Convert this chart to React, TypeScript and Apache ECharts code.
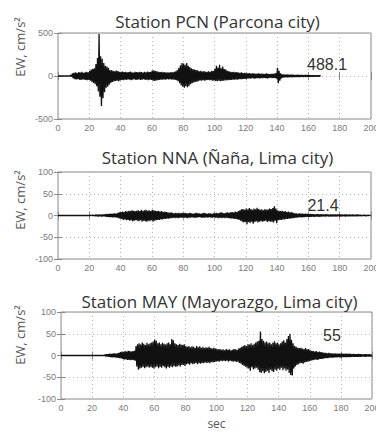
import React, { useEffect, useRef } from "react";
import * as echarts from "echarts";

// Station names drawn above each panel
const stationTitles = [
  "Station PCN (Parcona city)",
  "Station NNA (Ñaña, Lima city)",
  "Station MAY (Mayorazgo, Lima city)",
];

// Time axis (seconds)
const timeMin = 0;
const timeMax = 200;
const timeStep = 20;

// Amplitude axes per station (cm/s²)
const ampLimits = [500, 100, 100];
const ampSteps = [500, 50, 50];

// Positive and negative peak acceleration per one-second window (cm/s²)
const pcnUp = [
  0, 0, 0, 0, 0, 0, 0, 0,
  12, 30, 38, 42, 35, 45, 40, 48, 38, 44, 50, 42,
  60, 75, 85, 90, 140, 210, 488.1, 230, 200, 150,
  120, 110, 95, 70, 65, 60, 55, 62, 58, 50,
  48, 52, 45, 50, 42, 47, 52, 44, 40, 48,
  46, 42, 50, 45, 40, 48, 44, 52, 46, 50,
  62, 65, 58, 55, 50, 45, 48, 42, 46, 40,
  44, 40, 45, 42, 48, 55, 70, 95, 125, 150,
  145, 130, 150, 120, 105, 90, 80, 75, 70, 65,
  55, 60, 52, 58, 50, 48, 55, 50, 60, 58,
  85, 120, 95, 130, 90, 110, 80, 75, 60, 55,
  50, 45, 48, 42, 45, 40, 38, 42, 35, 38,
  32, 30, 35, 28, 30, 32, 26, 28, 30, 25,
  28, 24, 26, 30, 25, 22, 26, 24, 28, 35,
  95, 60, 30, 20, 18, 16, 18, 15, 14, 16,
  14, 12, 13, 15, 12, 11, 12, 10, 11, 10,
  9, 8, 9, 7, 8, 6, 7, 6,
];
const pcnDown = [
  0, 0, 0, 0, 0, 0, 0, 0,
  10, 28, 36, 40, 38, 42, 45, 40, 42, 46, 48, 45,
  55, 70, 80, 95, 120, 180, 240, 350, 260, 190,
  135, 125, 100, 80, 70, 62, 58, 55, 60, 52,
  45, 48, 42, 46, 40, 44, 50, 42, 38, 45,
  42, 40, 46, 42, 38, 45, 42, 48, 44, 46,
  55, 58, 52, 50, 46, 42, 44, 40, 42, 38,
  40, 38, 42, 40, 45, 50, 62, 85, 110, 125,
  135, 120, 130, 115, 95, 85, 75, 70, 65, 60,
  52, 55, 50, 54, 48, 45, 50, 48, 55, 52,
  58, 62, 55, 60, 58, 55, 52, 50, 48, 45,
  45, 42, 44, 40, 42, 38, 36, 38, 34, 35,
  30, 28, 32, 26, 28, 30, 25, 26, 28, 24,
  26, 22, 24, 28, 24, 20, 24, 22, 26, 32,
  85, 55, 28, 18, 16, 15, 16, 14, 13, 14,
  12, 11, 12, 13, 11, 10, 11, 9, 10, 9,
  8, 7, 8, 6, 7, 5, 6, 5,
];

const nnaUp = [
  0, 0, 0, 0, 0, 0, 0, 0, 0, 0, 0, 0, 0, 0, 0, 0, 0, 0, 0, 0, 0,
  1, 1.5, 1, 2, 1.5, 2, 1.5, 2, 2.5,
  3, 3.5, 3, 4, 3.5, 4, 5, 4.5, 6, 7,
  8, 9, 8, 10, 9, 11, 10, 12, 11, 10,
  11, 12, 10, 13, 11, 12, 13, 11, 12, 10,
  13, 12, 11, 10, 11, 9, 10, 8, 9, 8,
  7, 6, 7, 6, 5, 6, 5, 6, 5, 6,
  5, 6, 5, 5, 6, 5, 4, 5, 6, 5,
  5, 4, 5, 6, 5, 4, 5, 5, 4, 5,
  5, 6, 5, 6, 7, 6, 5, 6, 7, 6,
  7, 8, 7, 9, 8, 10, 12, 14, 15, 13,
  16, 14, 17, 15, 13, 16, 14, 18, 15, 13,
  14, 12, 15, 13, 14, 16, 15, 17, 21.4, 16,
  12, 11, 10, 11, 9, 10, 8, 9, 7, 8,
  6, 5, 5, 4, 5, 4, 4, 3.5, 4, 3.5,
  3, 3.5, 3, 3, 2.5, 3, 3, 2.5, 3, 2.5,
  2.5, 3, 2.5, 2, 2.5, 2, 2.5, 2, 2, 2.5,
  2, 2, 1.5, 2, 2, 1.5, 2, 1.5, 2, 1.5,
  1.5, 2, 1.5, 1.5, 1, 1.5, 1.5, 1, 1.5, 1,
];
const nnaDown = [
  0, 0, 0, 0, 0, 0, 0, 0, 0, 0, 0, 0, 0, 0, 0, 0, 0, 0, 0, 0, 0,
  1, 1, 1.5, 1.5, 2, 1.5, 2, 2, 2,
  3, 3, 3.5, 3.5, 4, 4, 4.5, 5, 6, 7,
  8, 10, 9, 11, 10, 12, 11, 13, 12, 11,
  12, 13, 11, 14, 12, 13, 14, 12, 13, 11,
  14, 12, 11, 10, 10, 9, 9, 8, 8, 7,
  7, 6, 6, 5, 6, 5, 6, 5, 5, 5,
  5, 5, 6, 5, 5, 4, 5, 5, 5, 4,
  4, 5, 5, 5, 4, 5, 4, 5, 5, 4,
  5, 5, 6, 5, 6, 5, 6, 5, 6, 6,
  7, 7, 8, 8, 9, 10, 12, 14, 16, 15,
  20, 15, 17, 14, 19, 15, 13, 16, 14, 13,
  14, 13, 12, 15, 13, 14, 14, 16, 12, 18,
  11, 10, 10, 9, 9, 8, 8, 7, 7, 6,
  6, 5, 5, 4, 4, 4, 3.5, 3.5, 3, 3,
  3, 3, 2.5, 3, 2.5, 2.5, 3, 2.5, 2.5, 2,
  2.5, 2, 2, 2.5, 2, 2, 2, 2, 1.5, 2,
  2, 1.5, 1.5, 2, 1.5, 1.5, 1.5, 1.5, 1.5, 1.5,
  1.5, 1.5, 1, 1.5, 1, 1, 1.5, 1, 1, 1,
];

const mayUp = [
  0, 0, 0, 0, 0, 0, 0, 0, 0, 0, 0, 0, 0, 0,
  0, 0, 0, 0, 0, 0, 0, 0, 0, 0, 0, 0, 0, 0,
  2, 3, 3, 4, 3.5, 4, 5, 4.5, 5, 6,
  8, 9, 8, 10, 9, 11, 10, 9, 10, 11,
  22, 26, 28, 25, 30, 27, 24, 29, 26, 28,
  30, 32, 37, 34, 28, 30, 26, 29, 27, 25,
  28, 30, 26, 38, 35, 28, 26, 24, 27, 25,
  24, 26, 22, 20, 22, 19, 21, 20, 18, 22,
  19, 21, 18, 20, 17, 19, 18, 20, 17, 16,
  18, 16, 15, 14, 15, 13, 14, 12, 15, 13,
  14, 12, 13, 15, 14, 13, 16, 18, 20, 22,
  24, 22, 26, 25, 28, 24, 27, 30, 32, 34,
  55, 38, 34, 30, 32, 28, 30, 26, 29, 33,
  28, 30, 25, 28, 32, 35, 30, 38, 45, 50,
  36, 28, 22, 20, 18, 17, 18, 16, 15, 17,
  14, 15, 12, 11, 10, 9, 10, 8, 9, 8,
  7, 6, 6, 5, 6, 5, 5, 4.5, 5, 4,
  4.5, 4, 4, 4.5, 3.5, 4, 3.5, 4, 3.5, 3,
  3.5, 3, 3, 3.5, 3, 3, 2.5, 3, 3, 2.5, 3, 2.5,
];
const mayDown = [
  0, 0, 0, 0, 0, 0, 0, 0, 0, 0, 0, 0, 0, 0,
  0, 0, 0, 0, 0, 0, 0, 0, 0, 0, 0, 0, 0, 0,
  2, 2.5, 3, 3.5, 4, 4, 4.5, 5, 5.5, 6,
  7, 8, 9, 9, 10, 10, 11, 10, 11, 12,
  25, 33, 30, 28, 26, 29, 27, 25, 28, 26,
  28, 30, 27, 25, 29, 26, 28, 24, 27, 30,
  26, 28, 25, 27, 24, 26, 25, 23, 25, 22,
  22, 24, 20, 19, 21, 18, 20, 19, 17, 20,
  18, 19, 17, 18, 16, 17, 16, 18, 15, 16,
  15, 14, 13, 14, 12, 13, 12, 13, 12, 14,
  12, 13, 14, 13, 15, 14, 17, 19, 22, 24,
  26, 28, 30, 35, 27, 32, 30, 28, 33, 38,
  40, 36, 41, 38, 35, 40, 33, 36, 38, 32,
  35, 30, 33, 28, 34, 30, 35, 32, 40, 45,
  46, 30, 25, 22, 20, 18, 17, 19, 16, 15,
  14, 13, 12, 11, 10, 9, 10, 9, 8, 8,
  7, 6, 6, 6, 5, 5, 5, 4.5, 4.5, 4,
  4, 4, 4, 3.5, 3.5, 3.5, 3.5, 3.5, 3, 3,
  3, 3, 3, 3, 3, 2.5, 2.5, 3, 2.5, 2.5, 2.5, 2.5,
];

const stationUps = [pcnUp, nnaUp, mayUp];
const stationDowns = [pcnDown, nnaDown, mayDown];

// Zig-zag each window between its positive and negative peak
function buildTrace(up: number[], down: number[]): number[][] {
  const pts: number[][] = [[0, 0]];
  for (let i = 0; i < up.length; i++) {
    pts.push([i + 0.25, up[i]]);
    pts.push([i + 0.75, -down[i]]);
  }
  pts.push([up.length, 0]);
  return pts;
}

const grids = [
  { left: 58, top: 33, width: 313, height: 86 },
  { left: 58, top: 172, width: 313, height: 87 },
  { left: 61, top: 312, width: 311, height: 87 },
];
const titleY = [21, 157, 301];
const yNameY = [47, 200, 335];
const peakPos = [
  [327, 64],
  [323, 205],
  [332, 335],
];

const FONT = "'Liberation Sans', Arial, sans-serif";
const TITLE_FONT = "'Open Sans', 'Noto Sans', sans-serif";
const axisGray = "#8a8a8a";
const labelGray = "#7a7a7a";

export default function App() {
  const ref = useRef<HTMLDivElement>(null);

  useEffect(() => {
    if (!ref.current) return;
    const chart = echarts.init(ref.current, undefined, { renderer: "svg" });

    const xAxes: any[] = [];
    const yAxes: any[] = [];
    const series: any[] = [];
    const graphics: any[] = [];

    grids.forEach((g, i) => {
      const lim = ampLimits[i];
      const tick = { show: true, inside: true, length: 4, lineStyle: { color: axisGray } };
      const dotted = { show: true, lineStyle: { color: "#b5b5b5", type: [1, 3], width: 1 } };
      xAxes.push({
        type: "value",
        gridIndex: i,
        min: timeMin,
        max: timeMax,
        interval: timeStep,
        position: "bottom",
        axisLine: { show: false },
        axisTick: tick,
        axisLabel: { color: labelGray, fontSize: 9, fontFamily: FONT, margin: 4 },
        splitLine: dotted,
        name: i === 2 ? "sec" : "",
        nameLocation: "middle",
        nameGap: 18,
        nameTextStyle: { color: "#555", fontSize: 12, lineHeight: 12, fontFamily: TITLE_FONT },
      });
      xAxes.push({
        type: "value",
        gridIndex: i,
        min: timeMin,
        max: timeMax,
        interval: timeStep,
        position: "top",
        axisLine: { show: false },
        axisTick: tick,
        axisLabel: { show: false },
        splitLine: { show: false },
      });
      yAxes.push({
        type: "value",
        gridIndex: i,
        min: -lim,
        max: lim,
        interval: ampSteps[i],
        position: "left",
        axisLine: { show: false },
        axisTick: tick,
        axisLabel: { color: labelGray, fontSize: 9, fontFamily: FONT, margin: 5 },
        splitLine: dotted,
      });
      yAxes.push({
        type: "value",
        gridIndex: i,
        min: -lim,
        max: lim,
        interval: ampSteps[i],
        position: "right",
        axisLine: { show: false },
        axisTick: tick,
        axisLabel: { show: false },
        splitLine: { show: false },
      });
      series.push({
        type: "line",
        xAxisIndex: i * 2,
        yAxisIndex: i * 2,
        data: buildTrace(stationUps[i], stationDowns[i]),
        showSymbol: false,
        symbol: "none",
        lineStyle: { color: "#111", width: 1.3 },
        z: 3,
      });

      graphics.push({
        type: "text",
        x: (g.left + g.left + g.width) / 2 + 3,
        y: titleY[i],
        style: {
          text: stationTitles[i],
          fill: "#333",
          font: `17px ${TITLE_FONT}`,
          textAlign: "center",
          textVerticalAlign: "middle",
        },
      });
      graphics.push({
        type: "text",
        x: 20,
        y: yNameY[i],
        rotation: Math.PI / 2,
        style: {
          text: "EW, cm/s²",
          fill: "#555",
          font: `13px ${TITLE_FONT}`,
          textAlign: "center",
          textVerticalAlign: "middle",
        },
      });
      const peak = Math.max(...stationUps[i], ...stationDowns[i]);
      graphics.push({
        type: "text",
        x: peakPos[i][0],
        y: peakPos[i][1],
        z: 10,
        style: {
          text: String(peak),
          fill: "#333",
          font: `16px ${FONT}`,
          textAlign: "center",
          textVerticalAlign: "middle",
        },
      });
    });

    chart.setOption({
      animation: false,
      backgroundColor: "#fff",
      grid: grids.map((g) => ({
        ...g,
        show: true,
        containLabel: false,
        outerBoundsMode: "none",
        borderColor: axisGray,
        borderWidth: 1,
        backgroundColor: "transparent",
      })),
      xAxis: xAxes,
      yAxis: yAxes,
      series,
      graphic: graphics,
    });

    return () => chart.dispose();
  }, []);

  return (
    <div
      ref={ref}
      style={{ position: "absolute", left: 0, top: 0, width: 376, height: 432 }}
    />
  );
}
